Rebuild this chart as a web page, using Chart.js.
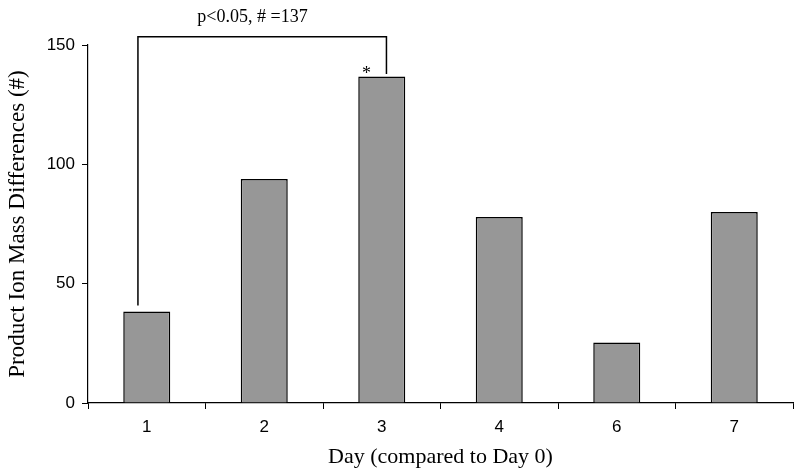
<!doctype html>
<html lang="en">
<head>
<meta charset="utf-8" />
<title>Product Ion Mass Differences</title>
<script src="https://cdn.jsdelivr.net/npm/chart.js"></script>
<style>
  html, body { margin: 0; padding: 0; background: #fff; }
  .box { width: 800px; height: 474px; position: relative; }
</style>
</head>
<body>
<div class="box"><canvas id="chart"></canvas></div>
<script>
// values
const days = ['1', '2', '3', '4', '6', '7'];
const massDiffs = [38.3, 93.9, 136.8, 77.9, 25.4, 80];
const yTicks = [0, 50, 100, 150];

// significance bracket, in data units (category index, y value)
const bracketX = [-0.075, 2.04];
const bracketBottom = [40.8, 137.8];
const bracketTop = 153.5;
const bracketLabel = 'p<0.05, # =137';
const bracketLabelPos = [0.9, 161.5];
const starPos = [1.87, 139.5];

const serif = '"Liberation Serif", "Times New Roman", serif';
const sans = '"Liberation Sans", Arial, sans-serif';

const bracketPlugin = {
  id: 'bracket',
  afterDraw(chart) {
    const { ctx, scales: { x, y } } = chart;
    const px = v => x.getPixelForValue(0) + v * (x.getPixelForValue(1) - x.getPixelForValue(0));
    ctx.save();
    ctx.strokeStyle = '#000';
    ctx.lineWidth = 1.5;
    ctx.beginPath();
    ctx.moveTo(px(bracketX[0]), y.getPixelForValue(bracketBottom[0]));
    ctx.lineTo(px(bracketX[0]), y.getPixelForValue(bracketTop));
    ctx.lineTo(px(bracketX[1]), y.getPixelForValue(bracketTop));
    ctx.lineTo(px(bracketX[1]), y.getPixelForValue(bracketBottom[1]));
    ctx.stroke();
    ctx.fillStyle = '#000';
    ctx.textAlign = 'center';
    ctx.textBaseline = 'middle';
    ctx.font = '18px ' + serif;
    ctx.fillText(bracketLabel, px(bracketLabelPos[0]), y.getPixelForValue(bracketLabelPos[1]));
    ctx.font = '18px ' + serif;
    ctx.fillText('*', px(starPos[0]), y.getPixelForValue(starPos[1]) + 4);
    ctx.restore();
  }
};

new Chart(document.getElementById('chart'), {
  type: 'bar',
  data: {
    labels: days,
    datasets: [{
      data: massDiffs,
      backgroundColor: '#979797',
      borderColor: '#000',
      borderWidth: 1.5,
      categoryPercentage: 1,
      barPercentage: 0.4
    }]
  },
  options: {
    responsive: true,
    maintainAspectRatio: false,
    animation: false,
    layout: { padding: { top: 45, right: 7, left: 0, bottom: 0 } },
    plugins: { legend: { display: false }, tooltip: { enabled: false } },
    scales: {
      x: {
        offset: true,
        grid: { offset: true, drawOnChartArea: false, drawTicks: true, tickLength: 6, color: '#000', lineWidth: 1 },
        border: { color: '#000', width: 1.2 },
        ticks: { color: '#000', font: { family: sans, size: 17 }, padding: 8 },
        title: { display: true, text: 'Day (compared to Day 0)', color: '#000', font: { family: serif, size: 22 }, padding: { top: 2 } },
        afterFit(scale) { scale.height = 71; }
      },
      y: {
        min: 0,
        max: 150,
        afterBuildTicks(scale) { scale.ticks = yTicks.map(v => ({ value: v })); },
        grid: { drawOnChartArea: false, drawTicks: true, tickLength: 6, color: '#000', lineWidth: 1 },
        border: { color: '#000', width: 1.2 },
        ticks: { color: '#000', font: { family: sans, size: 17 }, padding: 7 },
        title: { display: true, text: 'Product Ion Mass Differences (#)', color: '#000', font: { family: serif, size: 23 }, padding: { top: 4 } },
        afterFit(scale) { scale.width = 88; }
      }
    }
  },
  plugins: [bracketPlugin]
});
</script>
</body>
</html>
